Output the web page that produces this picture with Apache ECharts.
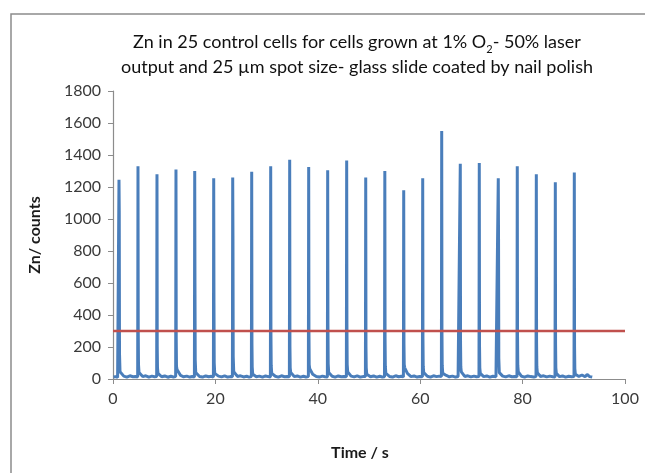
<!DOCTYPE html>
<html>
<head>
<meta charset="utf-8">
<script src="https://cdn.jsdelivr.net/npm/echarts@6/dist/echarts.min.js"></script>
<style>
html,body{margin:0;padding:0;background:#fff;}
#c{width:645px;height:473px;}
</style>
</head>
<body>
<div id="c"></div>
<script>
// Zn counts vs time [time s, counts]
const znCounts = [
[0.1,12],[0.5,15],[0.9,10],
[1.11,14],[1.17,1245],[1.22,1050],[1.27,160],[1.37,45],[2.1,18],[2.7,12],[3.3,20],[3.9,14],[4.4,16],
[4.82,12],[4.88,1330],[4.93,300],[4.98,90],[5.08,40],[5.8,15],[6.4,20],[7.0,12],[7.6,18],[8.1,14],
[8.53,16],[8.59,1280],[8.64,200],[8.69,70],[8.79,35],[9.5,14],[10.1,19],[10.7,11],[11.3,17],[11.8,13],
[12.24,15],[12.30,1310],[12.35,250],[12.4,80],[12.5,60],[13.2,22],[13.8,14],[14.4,18],[15.0,12],[15.5,16],
[15.90,13],[15.96,1300],[16.01,600],[16.06,120],[16.16,40],[16.9,16],[17.5,12],[18.1,19],[18.7,14],[19.2,17],
[19.61,12],[19.67,1255],[19.72,480],[19.77,100],[19.87,35],[20.6,18],[21.2,13],[21.8,20],[22.4,12],[22.9,15],
[23.32,14],[23.38,1260],[23.43,890],[23.48,140],[23.58,45],[24.3,16],[24.9,20],[25.5,13],[26.1,17],[26.6,12],
[27.03,15],[27.09,1295],[27.14,220],[27.19,75],[27.29,30],[28.0,14],[28.6,18],[29.2,12],[29.8,19],[30.3,15],
[30.74,13],[30.80,1330],[30.85,280],[30.9,85],[31.0,35],[31.7,17],[32.3,12],[32.9,20],[33.5,14],[34.0,16],
[34.45,14],[34.51,1370],[34.56,200],[34.61,70],[34.71,40],[35.4,15],[36.0,19],[36.6,12],[37.2,17],[37.7,13],
[38.16,15],[38.22,1325],[38.27,300],[38.32,90],[38.42,65],[39.0,30],[39.7,16],[40.3,12],[40.9,18],[41.4,14],
[41.87,13],[41.93,1305],[41.98,350],[42.03,95],[42.13,40],[42.8,17],[43.4,12],[44.0,19],[44.6,14],[45.1,16],
[45.58,14],[45.64,1365],[45.69,340],[45.74,90],[45.84,45],[46.5,18],[47.1,13],[47.7,20],[48.3,12],[48.8,15],
[49.30,15],[49.36,1260],[49.41,200],[49.46,70],[49.56,30],[50.3,14],[50.9,19],[51.5,12],[52.1,17],[52.6,13],
[53.03,14],[53.09,1300],[53.14,250],[53.19,80],[53.29,35],[54.0,16],[54.6,12],[55.2,20],[55.8,14],[56.3,17],
[56.72,13],[56.78,1180],[56.83,220],[56.88,90],[56.98,70],[57.5,35],[58.2,15],[58.8,19],[59.4,12],[59.9,16],
[60.43,14],[60.49,1255],[60.54,250],[60.59,80],[60.69,40],[61.4,17],[62.0,12],[62.6,20],[63.2,15],[63.7,18],
[64.14,15],[64.20,1550],[64.25,300],[64.3,85],[64.4,35],[65.1,22],[65.7,14],[66.3,18],[66.9,12],[67.4,16],
[67.77,13],[67.83,1345],[67.88,220],[67.93,75],[68.03,45],[68.7,16],[69.3,20],[69.9,13],[70.5,18],[71.0,14],
[71.48,15],[71.54,1350],[71.59,200],[71.64,70],[71.74,35],[72.4,15],[73.0,19],[73.6,12],[74.2,17],[74.8,14],
[75.19,13],[75.25,1255],[75.30,880],[75.35,130],[75.45,40],[76.1,18],[76.7,13],[77.3,20],[77.9,14],[78.5,16],
[78.90,14],[78.96,1330],[79.01,270],[79.06,85],[79.16,45],[79.8,17],[80.4,12],[81.0,19],[81.6,15],[82.2,13],
[82.62,15],[82.68,1280],[82.73,230],[82.78,75],[82.88,40],[83.5,16],[84.1,20],[84.7,13],[85.3,18],[85.9,14],
[86.33,13],[86.39,1230],[86.44,220],[86.49,70],[86.59,35],[87.2,15],[87.8,19],[88.4,12],[89.0,17],[89.6,14],
[90.04,15],[90.10,1290],[90.15,200],[90.2,65],[90.3,30],[91.0,16],[91.6,25],[92.2,14],[92.6,28],[93.1,15],[93.6,12]
];
const thresholdLine = [[0, 300], [100, 300]];
const xRange = [0, 100, 20];
const yRange = [0, 1800, 200];

const chart = echarts.init(document.getElementById('c'));
const font = 'Lato, Carlito, "Open Sans", sans-serif';
chart.setOption({
  animation: false,
  backgroundColor: '#fff',
  graphic: [{
    type: 'rect', shape: {x: 11, y: 14, width: 700, height: 520},
    style: {fill: 'none', stroke: '#8c8c8c', lineWidth: 1.5}, silent: true
  }],
  title: {
    left: 357, top: 30, padding: 0, textAlign: 'center',
    text: '{a|Zn in 25 control cells for cells grown at 1% O}{s|2}{a|- 50% laser}\n{a|output and 25 \u00b5m spot size- glass slide coated by nail polish}',
    textStyle: {
      fontWeight: 'normal',
      rich: {
        a: {fontFamily: font, fontSize: 18, fontWeight: 'normal', color: '#111', lineHeight: 25},
        s: {fontFamily: font, fontSize: 11, fontWeight: 'normal', color: '#111', lineHeight: 25, verticalAlign: 'bottom', padding: [9, 0, 0, 0]}
      }
    }
  },
  grid: {left: 113, right: 20, top: 91, bottom: 94},
  xAxis: {
    type: 'value', min: xRange[0], max: xRange[1], interval: xRange[2],
    name: 'Time / s', nameLocation: 'middle', nameGap: 66,
    nameTextStyle: {fontFamily: font, fontSize: 16, fontWeight: 'bold', color: '#1a1a1a', padding: [0, 18, 0, 0]},
    axisLine: {lineStyle: {color: '#8c8c8c', width: 1.2}},
    axisTick: {show: true, length: 5, lineStyle: {color: '#8c8c8c'}},
    axisLabel: {fontFamily: font, fontSize: 16, color: '#3a3a3a', margin: 12, formatter: v => String(v)},
    splitLine: {show: false}
  },
  yAxis: {
    type: 'value', min: yRange[0], max: yRange[1], interval: yRange[2],
    name: 'Zn/ counts', nameLocation: 'middle', nameGap: 70, nameRotate: 90,
    nameTextStyle: {fontFamily: font, fontSize: 16, fontWeight: 'bold', color: '#1a1a1a'},
    axisLine: {show: true, lineStyle: {color: '#8c8c8c', width: 1.2}},
    axisTick: {show: true, length: 5, lineStyle: {color: '#8c8c8c'}},
    axisLabel: {fontFamily: font, fontSize: 16, color: '#3a3a3a', margin: 12, formatter: v => String(v)},
    splitLine: {show: false}
  },
  series: [
    {
      type: 'line', data: znCounts, showSymbol: false, symbol: 'none',
      lineStyle: {color: '#4a7ebb', width: 3}, z: 2
    },
    {
      type: 'line', data: thresholdLine, showSymbol: false, symbol: 'none',
      lineStyle: {color: '#c0504d', width: 2.5}, z: 3
    }
  ]
});
</script>
</body>
</html>
